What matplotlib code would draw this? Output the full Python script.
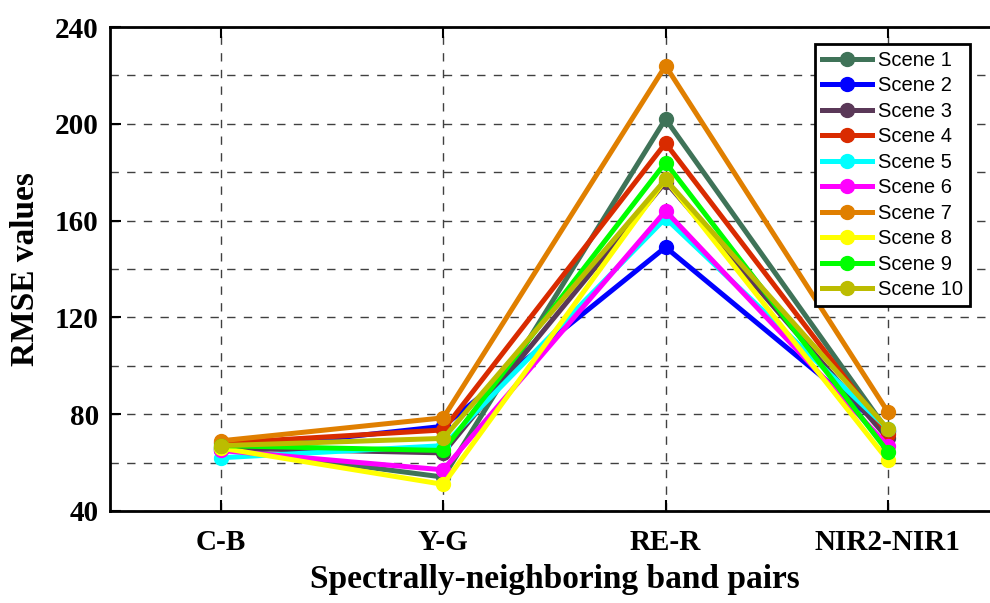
import numpy as np
import matplotlib.pyplot as plt
from matplotlib.ticker import MultipleLocator

# Band pairs and RMSE per scene
pairs = ['C-B', 'Y-G', 'RE-R', 'NIR2-NIR1']
scenes = ['Scene %d' % i for i in range(1, 11)]

scene1 = [66, 54, 202, 73]
scene2 = [65, 75, 149, 73]
scene3 = [66, 64, 176, 70]
scene4 = [68, 73.5, 192, 72]
scene5 = [62, 67, 161, 74]
scene6 = [65, 57, 164, 67]
scene7 = [69, 78.5, 224, 81]
scene8 = [66, 51, 177, 61]
scene9 = [67, 65, 184, 64.5]
scene10 = [67, 70, 177, 74]
rmse = [scene1, scene2, scene3, scene4, scene5,
        scene6, scene7, scene8, scene9, scene10]

colors = ['#3f7358', '#0000ff', '#5a3858', '#d92b00', '#00ffff',
          '#ff00ff', '#e07f00', '#ffff00', '#00ff00', '#bcbc00']

fig = plt.figure(figsize=(9.9, 6.03), dpi=100)
ax = fig.add_axes([0.111, 0.1526, 0.898, 0.8026])

x = np.arange(1, len(pairs) + 1)
for vals, c, name in zip(rmse, colors, scenes):
    ax.plot(x, vals, color=c, lw=3.6, marker='o', ms=10, label=name,
            solid_joinstyle='round')

ax.set_xlim(0.5, 4.5)
ax.set_ylim(40, 240)
ax.set_xticks(x)
ax.set_xticklabels(pairs)
ax.yaxis.set_major_locator(MultipleLocator(40))
ax.yaxis.set_minor_locator(MultipleLocator(20))
ax.grid(True, which='both', linestyle=(0, (6, 6)), color='#404040', lw=1.0)
ax.set_axisbelow(True)

for s in ['left', 'bottom', 'top']:
    ax.spines[s].set_linewidth(2.0)
ax.spines['right'].set_visible(False)
ax.tick_params(axis='both', which='major', direction='in', length=8, width=1.5,
               top=True, labelsize=21)
ax.tick_params(axis='x', pad=13)
ax.tick_params(axis='y', pad=8)
ax.tick_params(axis='y', which='minor', length=0)
for lab in ax.get_xticklabels() + ax.get_yticklabels():
    lab.set_family('Liberation Serif')
    lab.set_weight('bold')

ax.set_xlabel('Spectrally-neighboring band pairs', fontsize=24, family='Liberation Serif',
              weight='bold', labelpad=6)
ax.set_ylabel('RMSE values', fontsize=24, family='Liberation Serif',
              weight='bold', labelpad=10)

leg = ax.legend(loc='upper left', bbox_to_anchor=(815 / 990, 1 - 44 / 603),
                bbox_transform=fig.transFigure, fancybox=False, edgecolor='black',
                framealpha=1, prop={'family': 'Liberation Sans', 'size': 14.5},
                handlelength=2.5, labelspacing=0.32, borderpad=0.35,
                handletextpad=0.3, borderaxespad=0)
leg.get_frame().set_linewidth(2.0)

fig.savefig('out.png', dpi=100)
